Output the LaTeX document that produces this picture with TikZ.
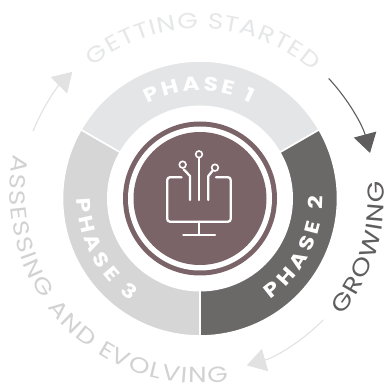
\documentclass[tikz,border=0pt]{standalone}
\usepackage{fontspec}
\setmainfont{Poppins}[FakeStretch=1.2]
\usetikzlibrary{decorations.text,arrows.meta}
\definecolor{phone}{HTML}{E4E5E6}
\definecolor{phtwo}{HTML}{6B6968}
\definecolor{phthree}{HTML}{D6D6D6}
\definecolor{brownc}{HTML}{7B6468}
\definecolor{lightarrow}{HTML}{E2E2E2}
\definecolor{darkarrow}{HTML}{5F5D5D}
\definecolor{txtone}{HTML}{E6E7E8}
\definecolor{txtthree}{HTML}{D2D2D2}
\tikzset{
  seg/.style={draw=white,line width=1.6pt},
  icon/.style={draw=white,line width=2.3pt,line cap=round,line join=round},
  ringarrow/.style={line width=1.1pt,-{Triangle[length=19pt,width=23pt]}},
}
\newcommand{\fphase}{\bfseries\fontsize{19.5}{20}\selectfont}
\newcommand{\fouter}{\fontsize{22}{22}\selectfont}
\newcommand{\fgrow}{\fontsize{23}{23}\selectfont}
% #1 colour, #2 font, #3 text, #4 start angle, #5 end angle, #6 radius, #7 centre
\newcommand{\arctext}[7]{%
  \path[decorate,decoration={text along path,text align={fit to path},
    text={|\color{#1}#2|#3}}]
    ([shift={#7}]#4:#6) arc[start angle=#4,end angle=#5,radius=#6];}
\begin{document}
\begin{tikzpicture}[x=1pt,y=1pt]
\useasboundingbox (0,0) rectangle (388,389);
\fill[white] (0,0) rectangle (388,389);
\coordinate (c) at (200,190.5);
% ring segments
\draw[seg,fill=phone]   (c) -- ([shift={(c)}]150:137.5) arc[start angle=150,end angle=30,radius=137.5] -- cycle;
\draw[seg,fill=phtwo]   (c) -- ([shift={(c)}]30:137.5) arc[start angle=30,end angle=-90,radius=137.5] -- cycle;
\draw[seg,fill=phthree] (c) -- ([shift={(c)}]-90:137.5) arc[start angle=-90,end angle=-210,radius=137.5] -- cycle;
% hub
\fill[white] (c) circle[radius=93];
\fill[brownc] (c) circle[radius=77];
\fill[white] (c) circle[radius=72];
\fill[brownc] (c) circle[radius=66.5];
% icon
\begin{scope}[shift={(100,289)},x=0.3333pt,y=-0.3333pt]
  \draw[icon,rounded corners=2.5pt] (245,232) -- (202,232) -- (202,365) -- (392,365) -- (392,232) -- (348,232);
  \draw[icon] (297,175) -- (297,300);
  \draw[icon] (270,300) -- (270,228) -- (251,208);
  \draw[icon] (325,300) -- (325,228) -- (338,212);
  \draw[icon] (297,365) -- (297,405);
  \draw[icon] (250,405) -- (345,405);
  \draw[draw=white,line width=1.6pt] (297,163) circle[radius=10];
  \draw[draw=white,line width=1.6pt] (248,194) circle[radius=10];
  \draw[draw=white,line width=1.6pt] (345,203) circle[radius=10];
\end{scope}
% phase labels
\arctext{white}{\fphase}{PHASE 1}{119}{62}{108}{(200,190.5)}
\arctext{white}{\fphase}{PHASE 2}{-55}{1}{123}{(200,190.5)}
\arctext{white}{\fphase}{PHASE 3}{180}{236}{123}{(200,190.5)}
% outer labels
\arctext{txtone}{\fouter}{GETTING STARTED}{129}{48.5}{170}{(200,190.5)}
\arctext{txtthree}{\fouter}{ASSESSING AND EVOLVING}{168}{279}{189}{(199,195)}
\arctext{darkarrow}{\fgrow}{GROWING}{-39.5}{5.5}{184}{(200,190.5)}
% arrows
\draw[ringarrow,lightarrow] ([shift={(c)}]158:180) arc[start angle=158,end angle=135,radius=178];
\draw[ringarrow,darkarrow] ([shift={(c)}]43:176) arc[start angle=43,end angle=15,radius=176];
\draw[ringarrow,lightarrow] ([shift={(c)}]-44.5:173) arc[start angle=-44.5,end angle=-74,radius=175];
\end{tikzpicture}
\end{document}
